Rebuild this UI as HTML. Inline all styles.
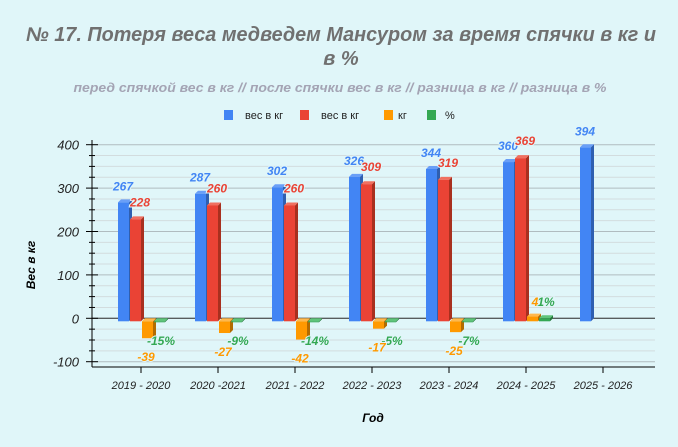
<!DOCTYPE html>
<html><head><meta charset="utf-8"><style>
html,body{margin:0;padding:0;background:#e0f6f9;}
svg{display:block;font-family:"Liberation Sans",sans-serif;}
</style></head><body>
<svg id="c" width="678" height="447" viewBox="0 0 678 447">
<rect x="0" y="0" width="678" height="447" fill="#e0f6f9"/>
<text x="341" y="41" text-anchor="middle" font-size="20" font-weight="bold" font-style="italic" fill="#707070" textLength="630" lengthAdjust="spacingAndGlyphs">№ 17. Потеря веса медведем Мансуром за время спячки в кг и</text>
<text x="341" y="65" text-anchor="middle" font-size="20" font-weight="bold" font-style="italic" fill="#707070">в %</text>
<text x="340" y="92" text-anchor="middle" font-size="13" font-weight="bold" font-style="italic" fill="#a4a4b4" textLength="533" lengthAdjust="spacingAndGlyphs">перед спячкой вес в кг // после спячки вес в кг // разница в кг // разница в %</text>
<g id="legend"></g>
<g id="grid"></g>
<g id="bars"></g>
<g id="axes"></g>
<g id="labels"></g>
<text transform="translate(35,265) rotate(-90)" text-anchor="middle" font-size="12" font-weight="bold" font-style="italic" fill="#000">Вес  в  кг</text>
<text x="373" y="422" text-anchor="middle" font-size="12" font-weight="bold" font-style="italic" fill="#000">Год</text>
</svg>
<script>
const categories = ["2019 - 2020","2020 -2021","2021 - 2022","2022 - 2023","2023 - 2024","2024 - 2025","2025 - 2026"];
const before = [267,287,302,326,344,360,394];
const after = [228,260,260,309,319,369,null];
const diffKg = [-39,-27,-42,-17,-25,4,null];
const diffPct = [-15,-9,-14,-5,-7,1,null];
const yTicks = [400,300,200,100,0,-100];
const legendNames = ["вес в кг","вес в кг","кг","%"];

const NS="http://www.w3.org/2000/svg";
function mk(tag,attrs,parent,text){const e=document.createElementNS(NS,tag);for(const k in attrs)e.setAttribute(k,attrs[k]);if(text!==undefined)e.textContent=text;parent.appendChild(e);return e;}
const y=v=>318.3-v*0.434;
const xc=i=>141+77*i;
const colors=[["#4285f4","#2f5fb0","#6a9ff7"],["#ea4335","#a8301f","#f07060"],["#ff9900","#b36b00","#ffb84d"],["#34a853","#247539","#5fc47a"]];

// legend
const lg=document.getElementById('legend');
const lx=[224,300,384,427], tx=[245,321,398,445];
legendNames.forEach((n,i)=>{
 const r=mk('rect',{x:lx[i],y:110,width:9,height:10,fill:colors[i][0]},lg);
 
 
 const t=mk('text',{x:tx[i],y:119,'font-size':11,fill:'#222'},lg,n);
 
 
});

// grid
const gr=document.getElementById('grid');
for(let v=-100;v<=400;v+=25){
 const l=mk('line',{x1:92,x2:655,y1:y(v),y2:y(v),stroke:(v%100===0)?'#b0bcc0':'#d2dcde','stroke-width':1},gr);
 
 
}
mk('line',{x1:92,x2:655,y1:y(0),y2:y(0),stroke:'#333','stroke-width':1},gr);

// axes
const ax=document.getElementById('axes');
mk('line',{x1:92,x2:92,y1:140,y2:367,stroke:'#000'},ax);
mk('line',{x1:92,x2:655,y1:367,y2:367,stroke:'#000'},ax);
for(let v=-100;v<=400;v+=25){
 const major=v%100===0;
 mk('line',{x1:major?86:89,x2:major?98:95,y1:y(v),y2:y(v),stroke:'#000'},ax);
}
yTicks.forEach(v=>{
 const t=mk('text',{x:79,y:y(v)+5,'text-anchor':'end','font-size':13,'font-style':'italic',fill:'#222'},ax,String(v));
 
 
});
categories.forEach((c,i)=>{
 mk('line',{x1:xc(i),x2:xc(i),y1:367,y2:373,stroke:'#000'},ax);
 const t=mk('text',{x:xc(i),y:389,'text-anchor':'middle','font-size':11,'font-style':'italic',fill:'#222'},ax,c);
 
 
});

// bars
const bg=document.getElementById('bars');
function bar(cx,v,col,name){
 const w=11,d=3,base=y(0)+3;
 const top=y(v)+ (v>=0?0:3);
 const y1=Math.min(top,base), y2=Math.max(top,base);
 const h=Math.max(y2-y1,1);
 const g=mk('g',{},bg);
 
 
 mk('polygon',{points:`${cx+w},${y1} ${cx+w+d},${y1-d} ${cx+w+d},${y1+h-d} ${cx+w},${y1+h}`,fill:col[1]},g);
 mk('polygon',{points:`${cx},${y1} ${cx+d},${y1-d} ${cx+w+d},${y1-d} ${cx+w},${y1}`,fill:col[2]},g);
 mk('rect',{x:cx,y:y1,width:w,height:h,fill:col[0]},g);
}
const lb=document.getElementById('labels');
function label(x,yy,txt,col,name){
 const t=mk('text',{x:x,y:yy,'text-anchor':'middle','font-size':12,'font-weight':'bold','font-style':'italic',fill:col,stroke:'#e0f6f9','stroke-width':2,'paint-order':'stroke'},lb,txt);
 
 
}
categories.forEach((c,i)=>{
 const c0=xc(i);
 if(before[i]!==null){bar(c0-23,before[i],colors[0],'bar-before-'+i);}
 if(after[i]!==null){bar(c0-11,after[i],colors[1],'bar-after-'+i);}
 if(diffKg[i]!==null){bar(c0+1,diffKg[i],colors[2],'bar-diff-kg-'+i);}
 if(diffPct[i]!==null){bar(c0+13,diffPct[i]/100,colors[3],'bar-diff-pct-'+i);}
});
categories.forEach((c,i)=>{
 const c0=xc(i);
 if(before[i]!==null) label(c0-18,y(before[i])-12,String(before[i]),'#4285f4','label-before-'+i);
 if(after[i]!==null) label(c0-1,y(after[i])-13,String(after[i]),'#ea4335','label-after-'+i);
 if(diffPct[i]!==null){
   const py=diffPct[i]<0?345:306;
   label(c0+20,py,diffPct[i]+'%','#34a853','label-diff-pct-'+i);
 }
 if(diffKg[i]!==null){
   const ky=diffKg[i]<0?y(diffKg[i])+26:306;
   label(diffKg[i]<0?c0+5:c0+9,ky,String(diffKg[i]),'#ff9900','label-diff-kg-'+i);
 }
});
</script>
</body></html>
